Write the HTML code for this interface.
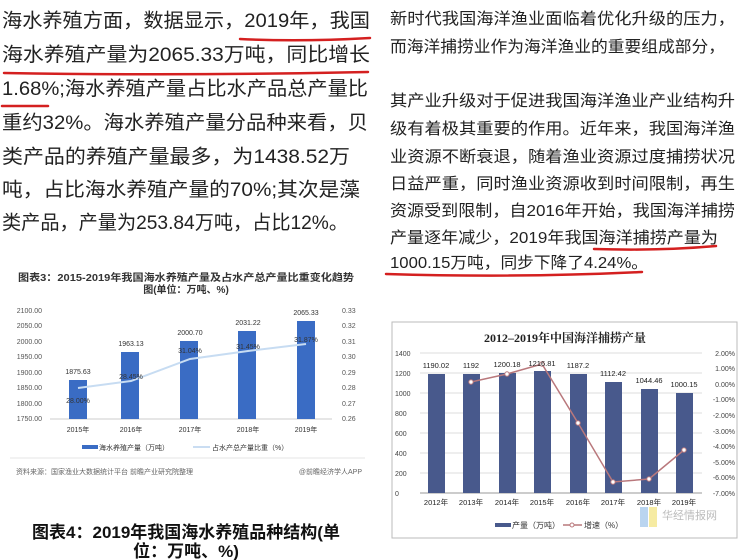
<!DOCTYPE html>
<html><head><meta charset="utf-8">
<style>
html,body{margin:0;padding:0;background:#fff;}
svg{display:block;font-family:"Liberation Sans","Noto Sans CJK SC",sans-serif;}
</style></head><body>
<svg width="750" height="560" viewBox="0 0 750 560" xmlns="http://www.w3.org/2000/svg">
<rect width="750" height="560" fill="#fff"/>
<!-- left text -->
<g font-size="19.5" fill="#222">
<text x="2" y="27" textLength="368" lengthAdjust="spacingAndGlyphs">海水养殖方面，数据显示，2019年，我国</text>
<text x="2" y="61" textLength="368" lengthAdjust="spacingAndGlyphs">海水养殖产量为2065.33万吨，同比增长</text>
<text x="2" y="95" textLength="366" lengthAdjust="spacingAndGlyphs">1.68%;海水养殖产量占比水产品总产量比</text>
<text x="2" y="129" textLength="366" lengthAdjust="spacingAndGlyphs">重约32%。海水养殖产量分品种来看，贝</text>
<text x="2" y="163" textLength="348" lengthAdjust="spacingAndGlyphs">类产品的养殖产量最多，为1438.52万</text>
<text x="2" y="196" textLength="358" lengthAdjust="spacingAndGlyphs">吨，占比海水养殖产量的70%;其次是藻</text>
<text x="2" y="229" textLength="346" lengthAdjust="spacingAndGlyphs">类产品，产量为253.84万吨，占比12%。</text>
</g>
<g stroke="#d42020" stroke-width="2.5" fill="none" stroke-linecap="round">
<path d="M240 39 Q300 42 370 38"/>
<path d="M4 73 Q180 76 368 72"/>
<path d="M2 106 L48 106"/>
</g>
<!-- right text -->
<g font-size="16" fill="#222">
<text x="390" y="24" textLength="345" lengthAdjust="spacingAndGlyphs">新时代我国海洋渔业面临着优化升级的压力，</text>
<text x="390" y="52" textLength="335" lengthAdjust="spacingAndGlyphs">而海洋捕捞业作为海洋渔业的重要组成部分，</text>
<text x="390" y="106" textLength="345" lengthAdjust="spacingAndGlyphs">其产业升级对于促进我国海洋渔业产业结构升</text>
<text x="390" y="134" textLength="345" lengthAdjust="spacingAndGlyphs">级有着极其重要的作用。近年来，我国海洋渔</text>
<text x="390" y="162" textLength="345" lengthAdjust="spacingAndGlyphs">业资源不断衰退，随着渔业资源过度捕捞状况</text>
<text x="390" y="189" textLength="345" lengthAdjust="spacingAndGlyphs">日益严重，同时渔业资源收到时间限制，再生</text>
<text x="390" y="216" textLength="345" lengthAdjust="spacingAndGlyphs">资源受到限制，自2016年开始，我国海洋捕捞</text>
<text x="390" y="243" textLength="328" lengthAdjust="spacingAndGlyphs">产量逐年减少，2019年我国海洋捕捞产量为</text>
<text x="390" y="268" textLength="258" lengthAdjust="spacingAndGlyphs">1000.15万吨，同步下降了4.24%。</text>
</g>
<g stroke="#d42020" stroke-width="2.5" fill="none" stroke-linecap="round">
<path d="M594 249 Q660 251 716 246"/>
<path d="M386 274 Q520 278 642 272"/>
</g>

<!-- left chart -->
<text x="186" y="281" font-size="10" font-weight="bold" text-anchor="middle" fill="#333" textLength="336" lengthAdjust="spacingAndGlyphs">图表3：2015-2019年我国海水养殖产量及占水产总产量比重变化趋势</text>
<text x="186" y="293" font-size="10" font-weight="bold" text-anchor="middle" fill="#333">图(单位：万吨、%)</text>
<g font-size="7" fill="#555">
<text x="42" y="313" text-anchor="end">2100.00</text>
<text x="42" y="328" text-anchor="end">2050.00</text>
<text x="42" y="344" text-anchor="end">2000.00</text>
<text x="42" y="359" text-anchor="end">1950.00</text>
<text x="42" y="375" text-anchor="end">1900.00</text>
<text x="42" y="390" text-anchor="end">1850.00</text>
<text x="42" y="406" text-anchor="end">1800.00</text>
<text x="42" y="421" text-anchor="end">1750.00</text>
<text x="342" y="313">0.33</text><text x="342" y="328">0.32</text><text x="342" y="344">0.31</text><text x="342" y="359">0.30</text><text x="342" y="375">0.29</text><text x="342" y="390">0.28</text><text x="342" y="406">0.27</text><text x="342" y="421">0.26</text>
</g>
<line x1="50" y1="419" x2="332" y2="419" stroke="#ccc" stroke-width="1"/>
<g fill="#3a6cc4">
<rect x="69" y="380" width="18" height="39"/>
<rect x="121" y="352" width="18" height="67"/>
<rect x="180" y="341" width="18" height="78"/>
<rect x="238" y="331" width="18" height="88"/>
<rect x="297" y="321" width="18" height="98"/>
</g>
<polyline points="78,388 131,381 190,359 248,351 306,344" fill="none" stroke="#c7dcf2" stroke-width="2"/>
<g font-size="7" fill="#333" text-anchor="middle">
<text x="78" y="374">1875.63</text><text x="131" y="346">1963.13</text><text x="190" y="335">2000.70</text><text x="248" y="325">2031.22</text><text x="306" y="315">2065.33</text>
<text x="78" y="403">28.00%</text><text x="131" y="379">28.45%</text><text x="190" y="353">31.04%</text><text x="248" y="349">31.45%</text><text x="306" y="342">31.87%</text>
<text x="78" y="432">2015年</text><text x="131" y="432">2016年</text><text x="190" y="432">2017年</text><text x="248" y="432">2018年</text><text x="306" y="432">2019年</text>
</g>
<rect x="82" y="445" width="16" height="4" fill="#3a6cc4"/>
<text x="99" y="450" font-size="7" fill="#333">海水养殖产量（万吨）</text>
<line x1="193" y1="447" x2="210" y2="447" stroke="#b8d2ee" stroke-width="1.5"/>
<text x="212" y="450" font-size="7" fill="#333">占水产总产量比重（%）</text>
<line x1="10" y1="458" x2="365" y2="458" stroke="#e4e4e4"/>
<text x="16" y="474" font-size="7" fill="#666">资料来源：国家渔业大数据统计平台 前瞻产业研究院整理</text>
<text x="362" y="474" font-size="7" fill="#666" text-anchor="end">@前瞻经济学人APP</text>
<text x="186" y="538" font-size="17" font-weight="bold" text-anchor="middle" fill="#111">图表4：2019年我国海水养殖品种结构(单</text>
<text x="186" y="557" font-size="17" font-weight="bold" text-anchor="middle" fill="#111">位：万吨、%)</text>

<!-- right chart -->
<rect x="392" y="322" width="345" height="216" fill="#fff" stroke="#bbb" stroke-width="1"/>
<text x="565" y="342" font-size="12" font-weight="bold" text-anchor="middle" fill="#222" font-family="Liberation Serif,Noto Serif CJK SC,serif">2012–2019年中国海洋捕捞产量</text>
<g stroke="#ddd" stroke-width="1">
<line x1="420" y1="353" x2="702" y2="353"/><line x1="420" y1="373" x2="702" y2="373"/><line x1="420" y1="393" x2="702" y2="393"/><line x1="420" y1="413" x2="702" y2="413"/><line x1="420" y1="433" x2="702" y2="433"/><line x1="420" y1="453" x2="702" y2="453"/><line x1="420" y1="473" x2="702" y2="473"/>
</g>
<line x1="420" y1="493" x2="702" y2="493" stroke="#999"/>
<g font-size="7" fill="#444">
<text x="395" y="356">1400</text><text x="395" y="376">1200</text><text x="395" y="396">1000</text><text x="395" y="416">800</text><text x="395" y="436">600</text><text x="395" y="456">400</text><text x="395" y="476">200</text><text x="395" y="496">0</text>
<text x="735" y="356" text-anchor="end">2.00%</text><text x="735" y="371" text-anchor="end">1.00%</text><text x="735" y="387" text-anchor="end">0.00%</text><text x="735" y="402" text-anchor="end">-1.00%</text><text x="735" y="418" text-anchor="end">-2.00%</text><text x="735" y="434" text-anchor="end">-3.00%</text><text x="735" y="449" text-anchor="end">-4.00%</text><text x="735" y="465" text-anchor="end">-5.00%</text><text x="735" y="480" text-anchor="end">-6.00%</text><text x="735" y="496" text-anchor="end">-7.00%</text>
</g>
<g fill="#48598c">
<rect x="428" y="374" width="17" height="119"/>
<rect x="463" y="374" width="17" height="119"/>
<rect x="499" y="373" width="17" height="120"/>
<rect x="534" y="371" width="17" height="122"/>
<rect x="570" y="374" width="17" height="119"/>
<rect x="605" y="382" width="17" height="111"/>
<rect x="641" y="389" width="17" height="104"/>
<rect x="676" y="393" width="17" height="100"/>
</g>
<polyline points="471,382 507,374 542,364 578,423 613,482 649,479 684,450" fill="none" stroke="#b9787c" stroke-width="1.5"/>
<g fill="#fff" stroke="#b9787c" stroke-width="1">
<circle cx="471" cy="382" r="2.2"/><circle cx="507" cy="374" r="2.2"/><circle cx="542" cy="364" r="2.2"/><circle cx="578" cy="423" r="2.2"/><circle cx="613" cy="482" r="2.2"/><circle cx="649" cy="479" r="2.2"/><circle cx="684" cy="450" r="2.2"/>
</g>
<g font-size="7.5" fill="#222" text-anchor="middle">
<text x="436" y="368">1190.02</text><text x="471" y="368">1192</text><text x="507" y="367">1200.18</text><text x="542" y="366">1216.81</text><text x="578" y="368">1187.2</text><text x="613" y="376">1112.42</text><text x="649" y="383">1044.46</text><text x="684" y="387">1000.15</text>
<text x="436" y="505">2012年</text><text x="471" y="505">2013年</text><text x="507" y="505">2014年</text><text x="542" y="505">2015年</text><text x="578" y="505">2016年</text><text x="613" y="505">2017年</text><text x="649" y="505">2018年</text><text x="684" y="505">2019年</text>
</g>
<rect x="495" y="523" width="16" height="4" fill="#48598c"/>
<text x="512" y="528" font-size="8" fill="#333">产量（万吨）</text>
<line x1="563" y1="525" x2="582" y2="525" stroke="#b9787c" stroke-width="1.5"/>
<circle cx="572" cy="525" r="2" fill="#fff" stroke="#b9787c"/>
<text x="584" y="528" font-size="8" fill="#333">增速（%）</text>
<rect x="640" y="507" width="8" height="20" fill="#9cc3ea" opacity="0.7"/>
<rect x="649" y="507" width="8" height="20" fill="#f2e27a" opacity="0.7"/>
<text x="662" y="519" font-size="11" fill="#bbb">华经情报网</text>
</svg>
</body></html>
